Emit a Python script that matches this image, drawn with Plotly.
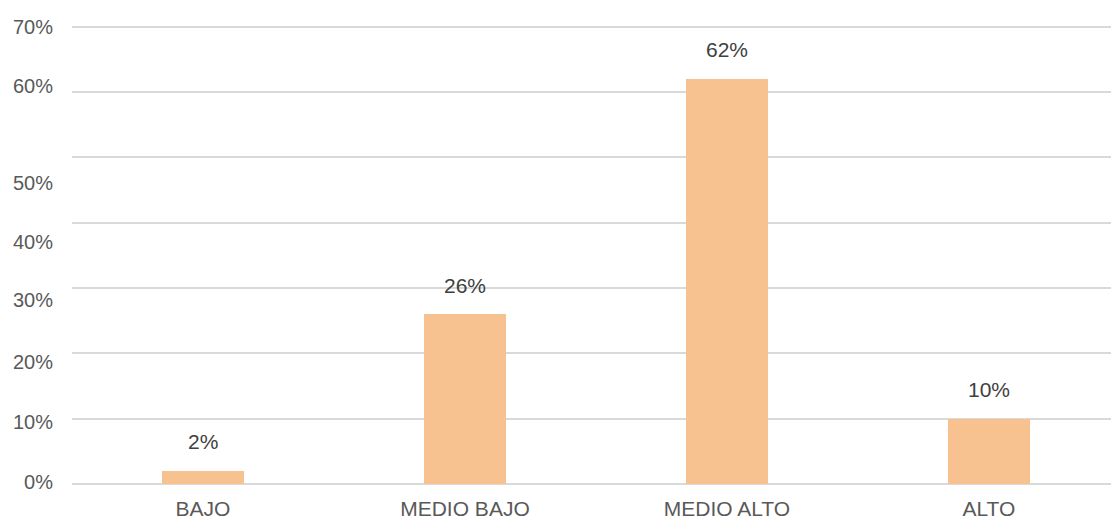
import plotly.graph_objects as go

# Distribution of levels (%)
categories = ["BAJO", "MEDIO BAJO", "MEDIO ALTO", "ALTO"]
values = [2, 26, 62, 10]

# y-axis tick labels and the heights at which they are printed
tick_labels = ["0%", "10%", "20%", "30%", "40%", "50%", "60%", "70%"]
tick_label_pos = [0.35, 9.5, 18.7, 28.2, 37.1, 46.1, 60.9, 70.0]

# horizontal grid every 10%
grid_step = 10
y_max = 70.4

FONT = "Liberation Sans, Arial, sans-serif"
BAR_COLOR = "#F8C290"
GRID_COLOR = "#D9D9D9"
AXIS_TEXT = "#595959"
LABEL_TEXT = "#404040"

fig = go.Figure()

fig.add_trace(go.Bar(
    x=categories,
    y=values,
    marker=dict(color=BAR_COLOR, line=dict(width=0)),
    width=0.313,
    hoverinfo="skip",
    showlegend=False,
))

# invisible trace that carries the gridline axis
fig.add_trace(go.Scatter(
    x=[categories[0]], y=[0], yaxis="y2", mode="markers",
    marker=dict(opacity=0), hoverinfo="skip", showlegend=False,
))

for cat, v in zip(categories, values):
    fig.add_annotation(
        x=cat, y=v, text=f"{v}%", showarrow=False,
        yanchor="middle", yshift=29,
        font=dict(family=FONT, size=21, color=LABEL_TEXT),
    )

fig.update_layout(
    width=1111, height=522,
    margin=dict(l=72, r=0, t=24, b=38, autoexpand=False),
    paper_bgcolor="white", plot_bgcolor="white",
    font=dict(family=FONT, size=20, color=AXIS_TEXT),
    bargap=0,
    xaxis=dict(
        range=[-0.5, 3.466], automargin=False,
        showgrid=False, zeroline=False, showline=False,
        ticks="", ticklabelstandoff=10,
        tickfont=dict(family=FONT, size=21, color=AXIS_TEXT),
    ),
    yaxis=dict(
        range=[0, y_max], automargin=False,
        showgrid=False, zeroline=False, showline=False,
        tickmode="array", tickvals=tick_label_pos, ticktext=tick_labels,
        ticks="", ticklabelstandoff=18,
        tickfont=dict(family=FONT, size=20, color=AXIS_TEXT),
    ),
    yaxis2=dict(
        range=[0, y_max], overlaying="y", side="right", automargin=False,
        dtick=grid_step, tick0=0,
        showgrid=True, gridcolor=GRID_COLOR, gridwidth=2,
        zeroline=True, zerolinecolor=GRID_COLOR, zerolinewidth=2,
        showticklabels=False, ticks="", showline=False,
        layer="below traces",
    ),
)

fig.write_html("out.html")
